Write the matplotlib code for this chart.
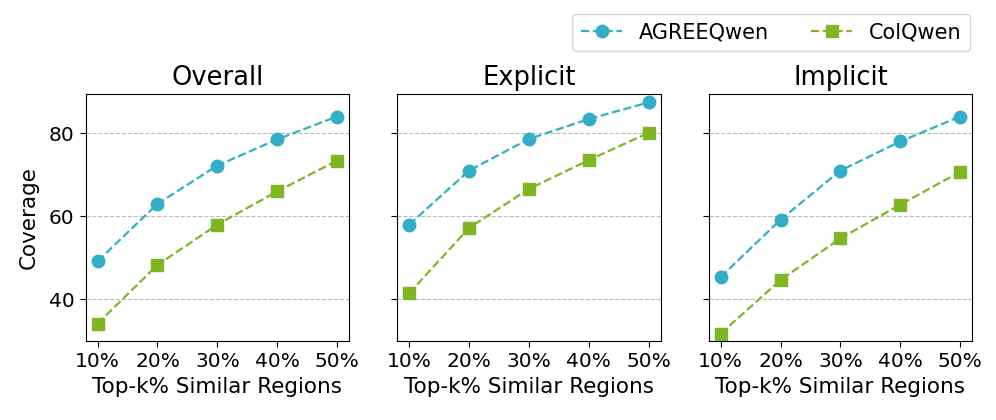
import matplotlib
matplotlib.use("Agg")
import matplotlib.pyplot as plt

# data
top_k = ["10%", "20%", "30%", "40%", "50%"]
panels = ["Overall", "Explicit", "Implicit"]
agree = {
    "Overall": [49.2, 63.0, 72.2, 78.5, 84.0],
    "Explicit": [58.0, 71.0, 78.6, 83.4, 87.4],
    "Implicit": [45.4, 59.2, 71.0, 78.0, 84.0],
}
colqwen = {
    "Overall": [34.2, 48.3, 58.0, 66.0, 73.4],
    "Explicit": [41.5, 57.2, 66.6, 73.5, 80.1],
    "Implicit": [31.8, 44.7, 54.7, 62.8, 70.7],
}

C_AGREE = "#33aec7"
C_COL = "#80b524"

fig, axes = plt.subplots(1, 3, figsize=(9.96, 4.2), dpi=100, sharey=True)
fig.subplots_adjust(left=0.086, right=0.976, bottom=0.188, top=0.777, wspace=0.183)

x = list(range(len(top_k)))
for ax, name in zip(axes, panels):
    ax.plot(x, agree[name], color=C_AGREE, ls="--", lw=1.6, marker="o", ms=9,
            label="AGREEQwen")
    ax.plot(x, colqwen[name], color=C_COL, ls="--", lw=1.6, marker="s", ms=9,
            label="ColQwen")
    ax.set_title(name, fontsize=18.5)
    ax.set_xticks(x)
    ax.set_xticklabels(top_k)
    ax.set_xlabel("Top-k% Similar Regions", fontsize=15.5)
    ax.set_yticks([40, 60, 80])
    ax.tick_params(labelsize=14.5, length=4.5)
    ax.set_ylim(30, 89.5)
    ax.yaxis.grid(True, ls="--", color="#bbbbbb", lw=0.8)
    ax.set_axisbelow(True)

axes[0].set_ylabel("Coverage", fontsize=15.5, labelpad=7)

handles, labels = axes[0].get_legend_handles_labels()
fig.legend(handles, labels, loc="upper right", bbox_to_anchor=(0.974, 0.967),
           borderaxespad=0, ncol=2, fontsize=15, frameon=True, columnspacing=2.0)

fig.savefig("out.png", dpi=100)
